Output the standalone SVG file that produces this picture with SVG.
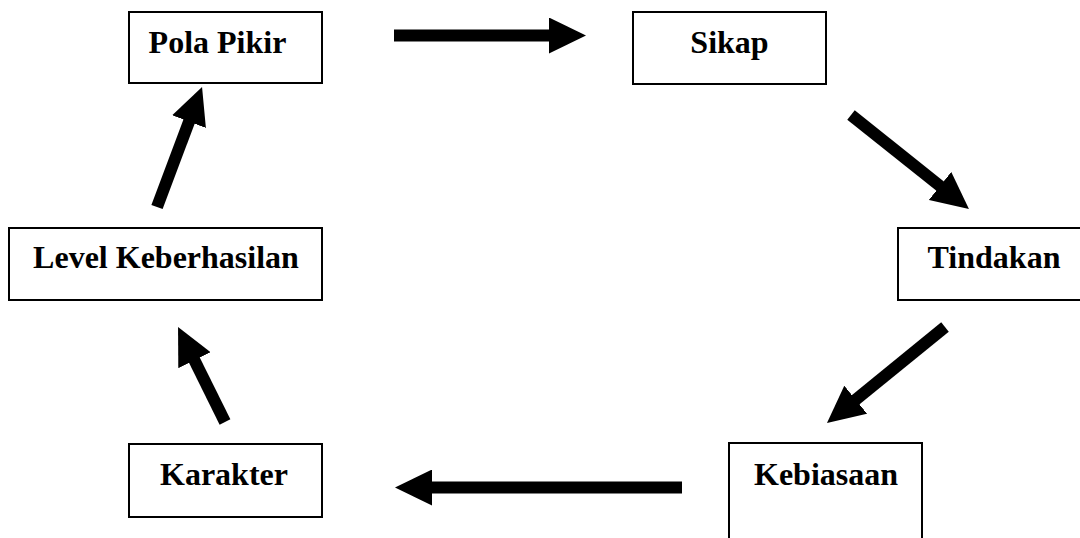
<svg xmlns="http://www.w3.org/2000/svg" width="1080" height="538" viewBox="0 0 1080 538">
  <style>
    .box { fill: #ffffff; stroke: #000000; stroke-width: 2; }
    .label { font-family: "Liberation Serif", "Times New Roman", serif; font-weight: bold; font-size: 32px; fill: #000000; text-anchor: middle; }
    .conn { stroke: #000000; stroke-width: 12; stroke-linecap: butt; fill: none; marker-end: url(#head); }
  </style>
  <defs>
    <marker id="head" markerUnits="userSpaceOnUse" markerWidth="37" markerHeight="36" viewBox="0 0 37 36" refX="1" refY="18" orient="auto">
      <path d="M0,0 L37,18 L0,36 z" fill="#000000"/>
    </marker>
  </defs>
  <rect width="1080" height="538" fill="#ffffff"/>
  <g id="node-pola-pikir">
    <rect class="box" x="129" y="12" width="193" height="71"/>
    <text class="label" x="217.5" y="53">Pola Pikir</text>
  </g>
  <g id="node-sikap">
    <rect class="box" x="633" y="12" width="193" height="72"/>
    <text class="label" x="729.5" y="53">Sikap</text>
  </g>
  <g id="node-tindakan">
    <rect class="box" x="898" y="228" width="190" height="72"/>
    <text class="label" x="994" y="268">Tindakan</text>
  </g>
  <g id="node-kebiasaan">
    <rect class="box" x="729" y="443" width="193" height="100"/>
    <text class="label" x="826" y="485">Kebiasaan</text>
  </g>
  <g id="node-karakter">
    <rect class="box" x="129" y="444" width="193" height="73"/>
    <text class="label" x="224" y="485">Karakter</text>
  </g>
  <g id="node-level">
    <rect class="box" x="9" y="228" width="313" height="72"/>
    <text class="label" x="166" y="268">Level Keberhasilan</text>
  </g>
  <g id="connectors">
    <line class="conn" x1="394" y1="35.5" x2="550" y2="35.5"/>
    <line class="conn" x1="851" y1="115" x2="940.8" y2="186.6"/>
    <line class="conn" x1="945" y1="327" x2="854.9" y2="400.3"/>
    <line class="conn" x1="682" y1="487.5" x2="431" y2="487.5"/>
    <line class="conn" x1="225" y1="422" x2="194" y2="359.3"/>
    <line class="conn" x1="157" y1="207" x2="189.4" y2="120.7"/>
  </g>
</svg>
